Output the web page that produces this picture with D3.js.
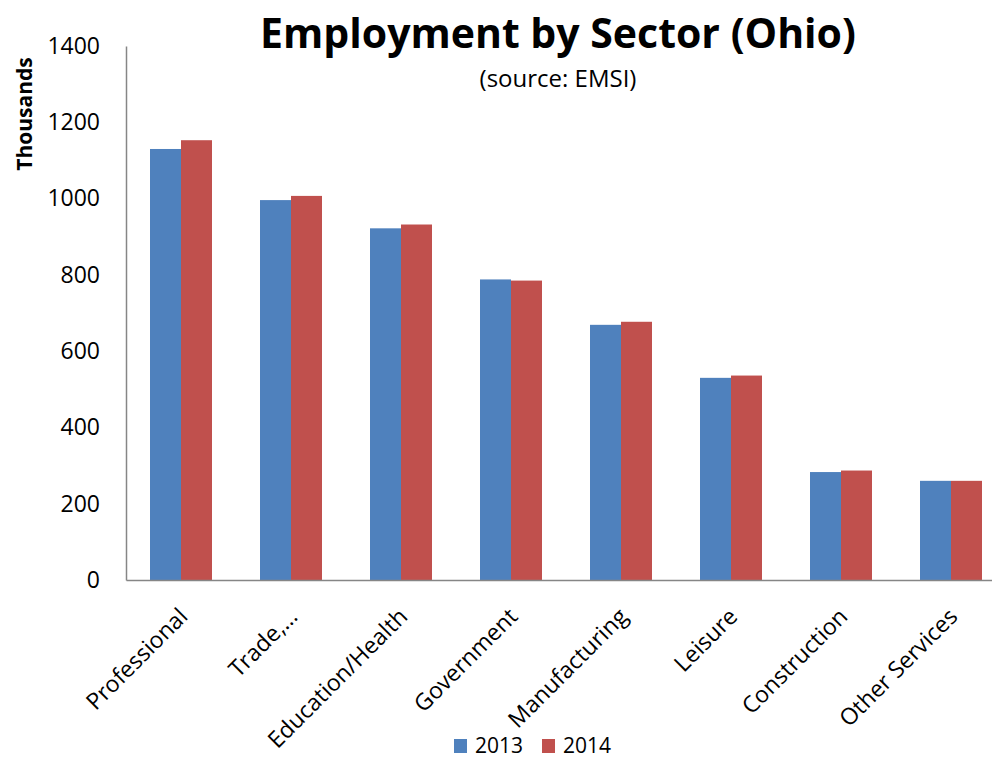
<!DOCTYPE html>
<html>
<head>
<meta charset="utf-8">
<script src="https://cdn.jsdelivr.net/npm/d3@7"></script>
<style>
body { margin: 0; background: #fff; }
text { font-family: "Open Sans", "Liberation Sans", sans-serif; fill: #000; }
</style>
</head>
<body>
<div id="chart"></div>
<script>
var width = 992;
var height = 759;
var margin = {top: 46, right: -14, bottom: 179, left: 126};
var w = width - margin.left - margin.right;
var h = height - margin.top - margin.bottom;

// data (thousands)
var sectors = ["Professional", "Trade,…", "Education/Health", "Government",
               "Manufacturing", "Leisure", "Construction", "Other Services"];
var years = ["2013", "2014"];
var jobs2013 = [1130, 996, 922, 788, 669, 530, 283, 260];
var jobs2014 = [1153, 1007, 932, 785, 677, 536, 287, 260];
var yTicks = [0, 200, 400, 600, 800, 1000, 1200, 1400];
var colors = ["#4F81BD", "#C0504D"];

var rows = sectors.map(function(s, i) {
  return {name: s, values: [jobs2013[i], jobs2014[i]]};
});

var svg = d3.select("#chart").append("svg")
  .attr("width", width)
  .attr("height", height);

var g = svg.append("g")
  .attr("transform", "translate(" + margin.left + "," + margin.top + ")");

var x0 = d3.scaleBand()
  .domain(sectors)
  .range([0, w])
  .paddingInner(48 / 110)
  .paddingOuter(24 / 110);

var x1 = d3.scaleBand()
  .domain(years)
  .range([0, x0.bandwidth()]);

var y = d3.scaleLinear()
  .domain([0, 1400])
  .range([h, 0]);

// bars
var groups = g.selectAll(".group")
  .data(rows)
  .enter().append("g")
  .attr("class", "group")
  .attr("transform", function(d) { return "translate(" + x0(d.name) + ",0)"; });

groups.selectAll("rect")
  .data(function(d) { return d.values.map(function(v, i) { return {year: years[i], value: v, i: i}; }); })
  .enter().append("rect")
  .attr("x", function(d) { return x1(d.year); })
  .attr("y", function(d) { return y(d.value); })
  .attr("width", x1.bandwidth())
  .attr("height", function(d) { return h - y(d.value); })
  .attr("fill", function(d) { return colors[d.i]; });

// y axis
var yAxis = g.append("g")
  .attr("class", "y axis")
  .call(d3.axisLeft(y).tickValues(yTicks).tickFormat(d3.format("d")).tickSize(0).tickPadding(26));
yAxis.selectAll("text")
  .style("font-size", "23px")
  .attr("fill", "#000");
yAxis.select(".domain").attr("stroke", "#868686").attr("stroke-width", 1.5);

// x axis
var xAxis = g.append("g")
  .attr("class", "x axis")
  .attr("transform", "translate(0," + h + ")")
  .call(d3.axisBottom(x0).tickSize(0).tickFormat(""));
xAxis.select(".domain").attr("stroke", "#868686").attr("stroke-width", 1.5);

// rotated category labels
g.selectAll(".xlabel")
  .data(sectors)
  .enter().append("text")
  .attr("class", "xlabel")
  .attr("text-anchor", "end")
  .attr("transform", function(d) {
    return "translate(" + (x0(d) + x0.bandwidth() / 2 + 8) + "," + (h + 38) + ") rotate(-45)";
  })
  .style("font-size", "23px")
  .text(function(d) { return d; });

// titles
svg.append("text")
  .attr("x", 558)
  .attr("y", 48)
  .attr("text-anchor", "middle")
  .style("font-size", "41px")
  .style("font-weight", "700")
  .text("Employment by Sector (Ohio)");

svg.append("text")
  .attr("x", 558)
  .attr("y", 87)
  .attr("text-anchor", "middle")
  .style("font-size", "24px")
  .text("(source: EMSI)");

svg.append("text")
  .attr("transform", "translate(32,114) rotate(-90)")
  .attr("text-anchor", "middle")
  .style("font-size", "21px")
  .style("font-weight", "700")
  .text("Thousands");

// legend
var legend = svg.append("g")
  .attr("transform", "translate(454,739)");
var items = legend.selectAll(".item")
  .data(years)
  .enter().append("g")
  .attr("class", "item")
  .attr("transform", function(d, i) { return "translate(" + (i * 88) + ",0)"; });
items.append("rect")
  .attr("width", 13)
  .attr("height", 14)
  .attr("fill", function(d, i) { return colors[i]; });
items.append("text")
  .attr("x", 21)
  .attr("y", 14)
  .style("font-size", "21px")
  .text(function(d) { return d; });
</script>
</body>
</html>
